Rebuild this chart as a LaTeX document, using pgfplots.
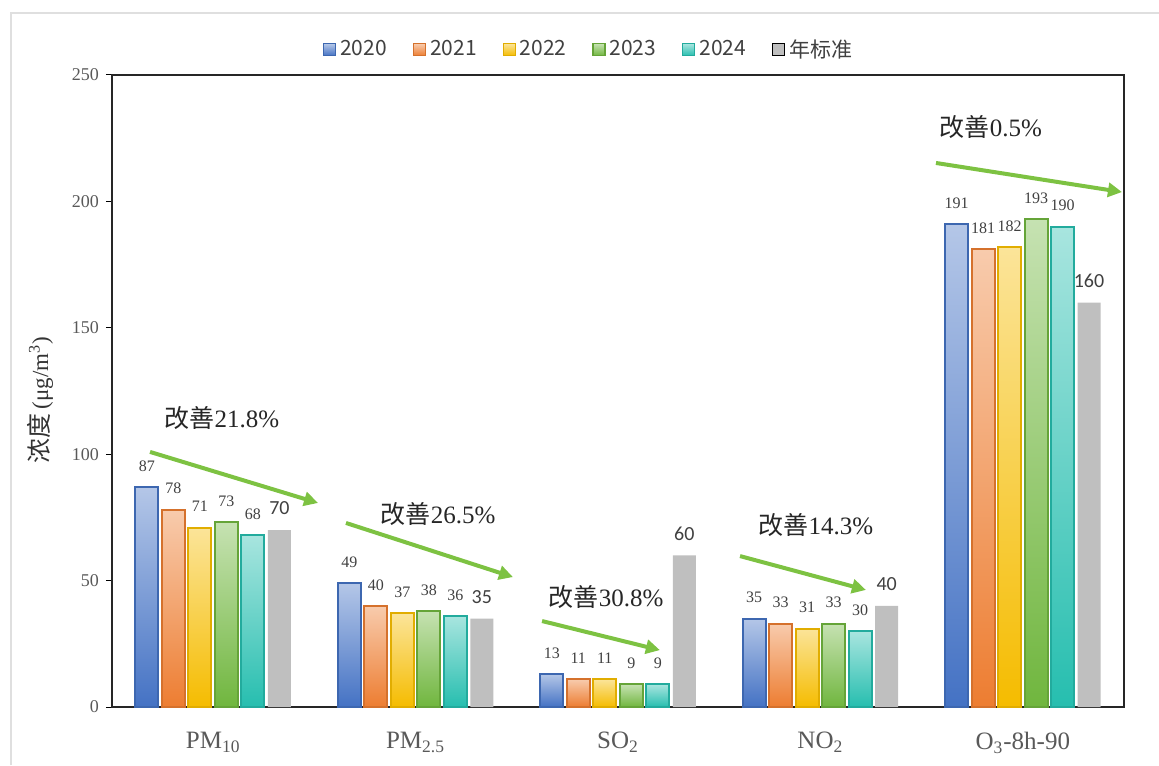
\documentclass[border=0pt]{standalone}
\usepackage{pgfplots}
\usepackage{pgfplotstable}
\pgfplotsset{compat=1.18}
\usepackage{fontspec}
\setmainfont{Liberation Serif}
\newfontfamily\cjk{Noto Sans CJK SC}
\newfontfamily\carl{Carlito}
\usetikzlibrary{arrows.meta}

\definecolor{cA}{RGB}{68,114,196}
\definecolor{cB}{RGB}{237,125,49}
\definecolor{cC}{RGB}{245,188,0}
\definecolor{cD}{RGB}{112,182,62}
\definecolor{cE}{RGB}{38,190,175}
\definecolor{cF}{RGB}{191,191,191}
\definecolor{arr}{RGB}{125,194,66}
\definecolor{tick}{RGB}{89,89,89}

% cat: 0 PM10, 1 PM2.5, 2 SO2, 3 NO2, 4 O3-8h-90
\pgfplotstableread{
cat y2020 y2021 y2022 y2023 y2024 std
0   87    78    71    73    68    70
1   49    40    37    38    36    35
2   13    11    11    9     9     60
3   35    33    31    33    30    40
4   191   181   182   193   190   160
}\data

\pgfplotsset{
  sA/.style={draw=cA!90!black, line width=1pt, top color=cA!40!white, bottom color=cA},
  sB/.style={draw=cB!90!black, line width=1pt, top color=cB!40!white, bottom color=cB},
  sC/.style={draw=cC!92!black, line width=1pt, top color=cC!40!white, bottom color=cC},
  sD/.style={draw=cD!90!black, line width=1pt, top color=cD!40!white, bottom color=cD},
  sE/.style={draw=cE!90!black, line width=1pt, top color=cE!40!white, bottom color=cE},
  sF/.style={draw=none, fill=cF},
  at shift/.style={ybar, bar shift=#1, every node near coord/.append style={xshift=#1}},
}

\begin{document}
\begin{tikzpicture}
\useasboundingbox (-56pt,-29pt) rectangle (523.5pt,353.5pt);
\draw[gray!25, line width=0.6pt] (-50.5pt,-29pt) -- (-50.5pt,347pt) -- (523.5pt,347pt);
\begin{axis}[
    at={(0pt,0pt)}, anchor=south west,
    scale only axis,
    width=506pt, height=316pt,
    bar width=11.5pt,
    xmin=-0.5, xmax=4.5,
    ymin=0, ymax=250,
    ytick={0,50,...,250},
    xtick={0,1,2,3,4},
    xticklabels={PM\textsubscript{10}, PM\textsubscript{2.5}, SO\textsubscript{2}, NO\textsubscript{2}, O\textsubscript{3}-8h-90},
    x tick label style={font=\fontsize{12.5}{14}\selectfont, text=tick, yshift=-6pt},
    y tick label style={font=\fontsize{9}{10}\selectfont, text=tick},
    /pgf/number format/assume math mode=true,
    xtick style={draw=none},
    ytick style={draw=black, line width=0.5pt},
    ytick pos=left,
    tick align=outside,
    major tick length=3pt,
    axis line style={black!85, line width=0.6pt},
    ylabel={{\cjk\fontsize{12.5}{14}\selectfont 浓度}\,(μg/m\textsuperscript{3})},
    ylabel style={at={(axis description cs:-0.071,0.486)}, anchor=center, font=\fontsize{11.5}{13}\selectfont, text=black!80},
    clip=false,
    nodes near coords,
    every node near coord/.append style={font=\fontsize{8}{9}\selectfont, text=black!75, yshift=4pt},
    legend style={at={(0.472,1.04)}, anchor=center, draw=none, fill=none,
        legend columns=-1, font=\cjk\fontsize{10.5}{12}\selectfont, text=black!75,
        /tikz/every even column/.append style={column sep=11pt}},
    legend image code/.code={\draw[#1, line width=0.6pt] (0pt,-3pt) rectangle (6pt,3pt);},
]
\addlegendimage{sA}\addlegendentry{2020}
\addlegendimage{sB}\addlegendentry{2021}
\addlegendimage{sC}\addlegendentry{2022}
\addlegendimage{sD}\addlegendentry{2023}
\addlegendimage{sE}\addlegendentry{2024}
\addlegendimage{sF}\addlegendentry{年标准}

\pgfplotsinvokeforeach{0,1,2,3,4}{
  \addplot[at shift=-33.125pt, sA, forget plot] table[x=cat, y=y2020, restrict x to domain=#1:#1] {\data};
  \addplot[at shift=-19.875pt, sB, forget plot] table[x=cat, y=y2021, restrict x to domain=#1:#1] {\data};
  \addplot[at shift=-6.625pt,  sC, forget plot] table[x=cat, y=y2022, restrict x to domain=#1:#1] {\data};
  \addplot[at shift=6.625pt,   sD, forget plot] table[x=cat, y=y2023, restrict x to domain=#1:#1] {\data};
  \addplot[at shift=19.875pt,  sE, forget plot] table[x=cat, y=y2024, restrict x to domain=#1:#1] {\data};
}
\addplot[at shift=33.125pt, sF, forget plot,
  every node near coord/.append style={font=\carl\fontsize{10}{11}\selectfont}] table[x=cat, y=std] {\data};

\draw[arr, line width=2pt, -{Triangle[length=7pt,width=7pt]}] (axis cs:-0.312,100.9) -- (axis cs:0.518,80.7);
\draw[arr, line width=2pt, -{Triangle[length=7pt,width=7pt]}] (axis cs:0.656,72.8) -- (axis cs:1.481,51.4);
\draw[arr, line width=2pt, -{Triangle[length=7pt,width=7pt]}] (axis cs:1.625,34.0) -- (axis cs:2.207,22.5);
\draw[arr, line width=2pt, -{Triangle[length=7pt,width=7pt]}] (axis cs:2.603,59.7) -- (axis cs:3.225,46.3);
\draw[arr, line width=2pt, -{Triangle[length=7pt,width=7pt]}] (axis cs:3.571,215.2) -- (axis cs:4.490,203.7);

\node[font=\fontsize{12.5}{14}\selectfont, text=black!85] at (axis cs:0.043,114.3) {{\cjk 改善}21.8\%};
\node[font=\fontsize{12.5}{14}\selectfont, text=black!85] at (axis cs:1.111,76.3) {{\cjk 改善}26.5\%};
\node[font=\fontsize{12.5}{14}\selectfont, text=black!85] at (axis cs:1.941,43.5) {{\cjk 改善}30.8\%};
\node[font=\fontsize{12.5}{14}\selectfont, text=black!85] at (axis cs:2.978,72.0) {{\cjk 改善}14.3\%};
\node[font=\fontsize{12.5}{14}\selectfont, text=black!85] at (axis cs:3.843,229.4) {{\cjk 改善}0.5\%};
\end{axis}
\end{tikzpicture}
\end{document}
